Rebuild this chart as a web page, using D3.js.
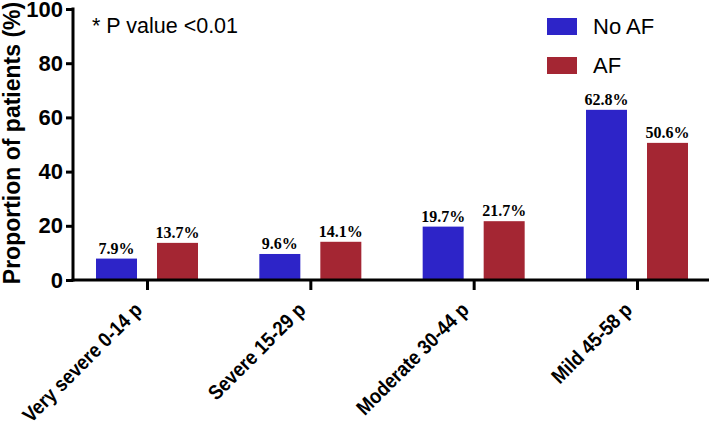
<!DOCTYPE html>
<html><head><meta charset="utf-8">
<script src="https://cdn.jsdelivr.net/npm/d3@7"></script>
<style>body{margin:0;background:#fff}svg{display:block}</style>
</head><body>
<svg id="c" width="709" height="430"></svg>
<script>
const categories = ["Very severe 0-14 p","Severe 15-29 p","Moderate 30-44 p","Mild 45-58 p"];
const seriesNames = ["No AF","AF"];
const noAF = [7.9, 9.6, 19.7, 62.8];
const af = [13.7, 14.1, 21.7, 50.6];
const yTicks = [0,20,40,60,80,100];
const colors = ["#2d24c8","#a42633"];

const svg = d3.select("#c");
const x = d3.scalePoint().domain(categories).range([147, 637]);
const y = d3.scaleLinear().domain([0,100]).range([280, 9]);
const series = [noAF, af];
const off = [-30.5, 30.5];
const bw = 41;

// bars
series.forEach((vals, si) => {
  svg.append("g").selectAll("rect").data(vals).join("rect")
    .attr("x", (d,i) => x(categories[i]) + off[si] - bw/2)
    .attr("y", d => y(d))
    .attr("width", bw)
    .attr("height", d => y(0) - y(d))
    .attr("fill", colors[si]);
  svg.append("g").selectAll("text").data(vals).join("text")
    .attr("x", (d,i) => x(categories[i]) + off[si])
    .attr("y", d => y(d) - 5)
    .attr("text-anchor","middle")
    .attr("font-family","Liberation Serif, Times New Roman, serif")
    .attr("font-weight","bold")
    .attr("font-size", 16)
    .text(d => d.toFixed(1) + "%");
});

// y axis
const ya = svg.append("g").attr("transform","translate(73,0)")
  .call(d3.axisLeft(y).tickValues(yTicks).tickSize(7).tickPadding(3));
ya.select(".domain").attr("stroke","#000").attr("stroke-width",3).attr("d","M0,"+(y(100)-1.5)+"V"+(y(0)+1.5));
ya.selectAll(".tick line").attr("stroke","#000").attr("stroke-width",3);
ya.selectAll(".tick text").attr("font-family","Liberation Sans, Arial, sans-serif")
  .attr("font-weight","bold").attr("font-size",22).attr("fill","#000");

// x axis
const xa = svg.append("g").attr("transform","translate(0,280)")
  .call(d3.axisBottom(x).tickSize(10).tickPadding(6));
xa.select(".domain").attr("stroke","#000").attr("stroke-width",3).attr("d","M71.5,0H709");
xa.selectAll(".tick line").attr("stroke","#000").attr("stroke-width",3);
xa.selectAll(".tick text").attr("font-family","Liberation Sans, Arial, sans-serif")
  .attr("font-weight","bold").attr("font-size",20.5).attr("fill","#000")
  .attr("text-anchor","end").attr("dy",0)
  .attr("transform","translate(-4,31) rotate(-45) scale(0.89,1)").attr("y",0).attr("x",0);

// y title
svg.append("text")
  .attr("transform","translate(20,143) rotate(-90)")
  .attr("text-anchor","middle")
  .attr("font-family","Liberation Sans, Arial, sans-serif")
  .attr("font-weight","bold").attr("font-size",23)
  .text("Proportion of patients (%)");

// annotation
svg.append("text").attr("x",92).attr("y",33)
  .attr("font-family","Liberation Sans, Arial, sans-serif")
  .attr("font-size",21.5).text("* P value <0.01");

// legend
const lg = svg.append("g");
seriesNames.forEach((n,i) => {
  lg.append("rect").attr("x",547).attr("y",18 + i*39).attr("width",30).attr("height",17).attr("fill",colors[i]);
  lg.append("text").attr("x",593).attr("y",34 + i*39)
    .attr("font-family","Liberation Sans, Arial, sans-serif")
    .attr("font-size",22).text(n);
});
</script>
</body></html>
